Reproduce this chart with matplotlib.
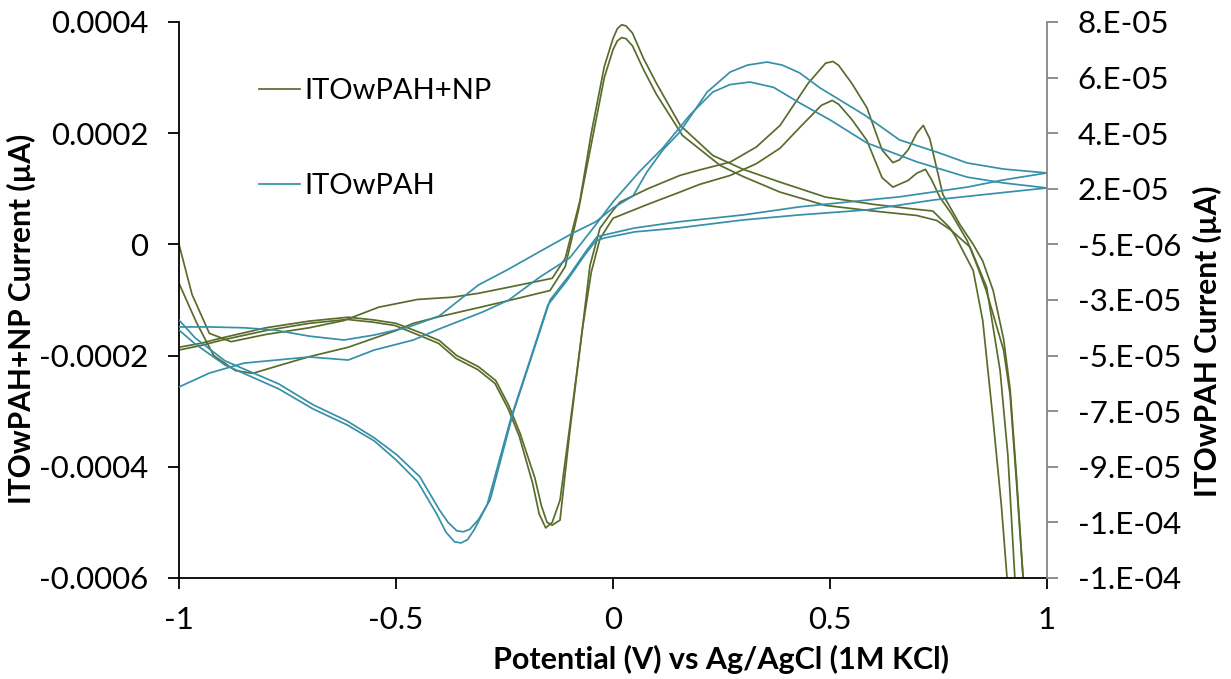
import matplotlib
matplotlib.use("Agg")
import matplotlib.pyplot as plt

plt.rcParams['font.family'] = ['Lato', 'DejaVu Sans']

# -------------------- DATA --------------------
# ITOwPAH+NP (left axis), two cycles, forward and reverse branch each
np_fwd1_x = [-1.0, -0.97, -0.93, -0.88, -0.8, -0.7, -0.62, -0.54, -0.45, -0.37, -0.31, -0.24, -0.14,
             -0.11, -0.076, -0.05, -0.02, 0.0, 0.01, 0.02, 0.03, 0.045, 0.07, 0.1, 0.155, 0.23, 0.3,
             0.385, 0.49, 0.6, 0.7, 0.737, 0.776, 0.79, 0.83, 0.852, 0.876, 0.895, 0.908, 0.915]
np_fwd1_y = [0.0, -0.9e-4, -1.6e-4, -1.75e-4, -1.62e-4, -1.5e-4, -1.37e-4, -1.13e-4, -0.99e-4, -0.95e-4,
             -0.88e-4, -0.77e-4, -0.61e-4, -0.25e-4, 0.79e-4, 2.0e-4, 3.2e-4, 3.7e-4, 3.88e-4, 3.95e-4,
             3.93e-4, 3.8e-4, 3.35e-4, 2.9e-4, 2.14e-4, 1.6e-4, 1.35e-4, 1.12e-4, 0.85e-4, 0.72e-4,
             0.63e-4, 0.6e-4, 0.3e-4, 0.13e-4, -0.47e-4, -1.37e-4, -3.17e-4, -4.7e-4, -6.0e-4, -6.6e-4]

np_fwd2_x = [-1.0, -0.96, -0.92, -0.87, -0.83, -0.77, -0.7, -0.61, -0.5, -0.46, -0.4, -0.3, -0.24,
             -0.145, -0.11, -0.08, -0.05, -0.02, 0.0, 0.01, 0.02, 0.03, 0.045, 0.07, 0.1, 0.16, 0.247,
             0.3, 0.385, 0.49, 0.6, 0.7, 0.746, 0.78, 0.823, 0.861, 0.892, 0.91, 0.926, 0.935]
np_fwd2_y = [-0.7e-4, -1.4e-4, -2.0e-4, -2.27e-4, -2.32e-4, -2.18e-4, -2.02e-4, -1.85e-4, -1.55e-4,
             -1.42e-4, -1.3e-4, -1.12e-4, -1.01e-4, -0.83e-4, -0.4e-4, 0.6e-4, 1.8e-4, 3.0e-4, 3.5e-4,
             3.66e-4, 3.72e-4, 3.7e-4, 3.57e-4, 3.15e-4, 2.7e-4, 1.96e-4, 1.42e-4, 1.22e-4, 0.94e-4,
             0.7e-4, 0.6e-4, 0.52e-4, 0.43e-4, 0.25e-4, -0.05e-4, -0.77e-4, -2.27e-4, -3.8e-4, -6.0e-4,
             -6.6e-4]

np_rev1_x = [0.952, 0.945, 0.93, 0.915, 0.9, 0.876, 0.852, 0.83, 0.8, 0.76, 0.745, 0.73, 0.715, 0.7,
             0.68, 0.66, 0.645, 0.62, 0.585, 0.55, 0.52, 0.507, 0.49, 0.45, 0.385, 0.33, 0.27, 0.2,
             0.154, 0.08, 0.016, 0.0, -0.03, -0.053, -0.071, -0.1, -0.122, -0.14, -0.152, -0.165,
             -0.18, -0.214, -0.24, -0.27, -0.31, -0.36, -0.4, -0.44, -0.5, -0.55, -0.61, -0.7, -0.8,
             -0.9, -0.95, -1.0]
np_rev1_y = [-6.6e-4, -6.0e-4, -4.2e-4, -2.6e-4, -1.7e-4, -0.83e-4, -0.3e-4, 0.0, 0.35e-4, 0.9e-4,
             1.4e-4, 1.9e-4, 2.14e-4, 2.0e-4, 1.7e-4, 1.52e-4, 1.47e-4, 1.7e-4, 2.46e-4, 2.9e-4,
             3.22e-4, 3.29e-4, 3.26e-4, 2.9e-4, 2.14e-4, 1.75e-4, 1.48e-4, 1.34e-4, 1.24e-4, 1.0e-4,
             0.76e-4, 0.61e-4, 0.29e-4, -0.38e-4, -1.55e-4, -3.4e-4, -4.96e-4, -5.05e-4, -5.0e-4,
             -4.7e-4, -4.2e-4, -3.4e-4, -2.9e-4, -2.45e-4, -2.2e-4, -2.0e-4, -1.73e-4, -1.6e-4,
             -1.42e-4, -1.36e-4, -1.31e-4, -1.38e-4, -1.5e-4, -1.68e-4, -1.78e-4, -1.85e-4]

np_rev2_x = [0.952, 0.945, 0.93, 0.915, 0.9, 0.86, 0.84, 0.816, 0.78, 0.753, 0.735, 0.72, 0.7, 0.68,
             0.645, 0.62, 0.585, 0.55, 0.52, 0.505, 0.48, 0.43, 0.385, 0.33, 0.27, 0.2, 0.154, 0.08,
             0.0, -0.03, -0.05, -0.07, -0.1, -0.122, -0.14, -0.155, -0.17, -0.185, -0.216, -0.242,
             -0.272, -0.312, -0.362, -0.402, -0.442, -0.502, -0.552, -0.612, -0.7, -0.8, -0.9, -0.95,
             -1.0]
np_rev2_y = [-6.6e-4, -6.0e-4, -4.3e-4, -2.7e-4, -1.9e-4, -0.83e-4, -0.4e-4, 0.07e-4, 0.55e-4,
             0.85e-4, 1.15e-4, 1.35e-4, 1.28e-4, 1.15e-4, 1.03e-4, 1.2e-4, 1.87e-4, 2.25e-4, 2.52e-4,
             2.59e-4, 2.5e-4, 2.1e-4, 1.73e-4, 1.45e-4, 1.24e-4, 1.08e-4, 0.94e-4, 0.72e-4, 0.47e-4,
             0.1e-4, -0.5e-4, -1.5e-4, -3.3e-4, -4.6e-4, -5.0e-4, -5.1e-4, -4.85e-4, -4.3e-4, -3.45e-4,
             -2.95e-4, -2.5e-4, -2.25e-4, -2.05e-4, -1.78e-4, -1.65e-4, -1.46e-4, -1.4e-4, -1.35e-4,
             -1.42e-4, -1.55e-4, -1.72e-4, -1.82e-4, -1.9e-4]

# ITOwPAH (right axis)
pah_fwd1_x = [-1.0, -0.93, -0.85, -0.78, -0.7, -0.62, -0.55, -0.47, -0.4, -0.31, -0.244, -0.17, -0.092,
              -0.04, 0.0, 0.046, 0.078, 0.115, 0.154, 0.217, 0.27, 0.31, 0.355, 0.39, 0.43, 0.477, 0.58,
              0.66, 0.75, 0.816, 0.9, 1.0]
pah_fwd1_y = [-3.47e-5, -3.47e-5, -3.5e-5, -3.58e-5, -3.8e-5, -3.94e-5, -3.76e-5, -3.47e-5, -3.07e-5,
              -1.96e-5, -1.42e-5, -0.77e-5, -0.09e-5, 0.31e-5, 0.81e-5, 1.24e-5, 2.1e-5, 2.9e-5, 3.54e-5,
              4.98e-5, 5.7e-5, 5.95e-5, 6.06e-5, 5.95e-5, 5.67e-5, 5.13e-5, 4.15e-5, 3.26e-5, 2.8e-5,
              2.43e-5, 2.21e-5, 2.07e-5]

pah_fwd2_x = [-1.0, -0.93, -0.85, -0.7, -0.61, -0.55, -0.46, -0.4, -0.3, -0.24, -0.168, -0.1, -0.076,
              -0.04, 0.0, 0.06, 0.115, 0.177, 0.23, 0.27, 0.316, 0.37, 0.43, 0.5, 0.585, 0.7, 0.816,
              0.9, 1.0]
pah_fwd2_y = [-5.63e-5, -5.13e-5, -4.77e-5, -4.55e-5, -4.66e-5, -4.3e-5, -3.94e-5, -3.54e-5, -2.93e-5,
              -2.5e-5, -1.67e-5, -0.99e-5, -0.52e-5, 0.2e-5, 1.03e-5, 2.1e-5, 2.97e-5, 4.15e-5, 4.98e-5,
              5.25e-5, 5.34e-5, 5.15e-5, 4.59e-5, 3.98e-5, 3.15e-5, 2.47e-5, 1.92e-5, 1.71e-5, 1.53e-5]

pah_rev1_x = [1.0, 0.9, 0.816, 0.66, 0.5, 0.43, 0.3, 0.15, 0.05, -0.02, -0.037, -0.06, -0.1, -0.145,
              -0.19, -0.23, -0.283, -0.31, -0.33, -0.345, -0.36, -0.38, -0.4, -0.445, -0.498, -0.55,
              -0.613, -0.691, -0.77, -0.894, -0.963, -1.0]
pah_rev1_y = [2.07e-5, 1.82e-5, 1.56e-5, 1.21e-5, 0.96e-5, 0.85e-5, 0.56e-5, 0.31e-5, 0.09e-5, -0.16e-5,
              -0.23e-5, -0.7e-5, -1.6e-5, -2.5e-5, -4.66e-5, -6.56e-5, -9.69e-5, -10.4e-5, -10.75e-5,
              -10.84e-5, -10.8e-5, -10.5e-5, -10.05e-5, -8.86e-5, -8.07e-5, -7.46e-5, -6.85e-5,
              -6.27e-5, -5.52e-5, -4.69e-5, -3.86e-5, -3.22e-5]

pah_rev2_x = [1.0, 0.89, 0.74, 0.585, 0.43, 0.3, 0.15, 0.05, -0.02, -0.04, -0.065, -0.105, -0.15,
              -0.195, -0.235, -0.29, -0.32, -0.335, -0.35, -0.365, -0.385, -0.405, -0.45, -0.5, -0.55,
              -0.613, -0.691, -0.77, -0.894, -0.963, -1.0]
pah_rev2_y = [1.53e-5, 1.35e-5, 1.1e-5, 0.74e-5, 0.56e-5, 0.38e-5, 0.09e-5, -0.05e-5, -0.27e-5,
              -0.38e-5, -0.88e-5, -1.78e-5, -2.68e-5, -4.84e-5, -6.74e-5, -9.87e-5, -10.77e-5,
              -11.12e-5, -11.24e-5, -11.2e-5, -10.85e-5, -10.23e-5, -9.04e-5, -8.25e-5, -7.57e-5,
              -6.99e-5, -6.42e-5, -5.7e-5, -4.84e-5, -4.08e-5, -3.58e-5]

x_ticks = [-1, -0.5, 0, 0.5, 1]
x_labels = ['-1', '-0.5', '0', '0.5', '1']
left_ticks = [0.0004, 0.0002, 0.0, -0.0002, -0.0004, -0.0006]
left_labels = ['0.0004', '0.0002', '0', '-0.0002', '-0.0004', '-0.0006']
right_ticks = [7.5e-5, 5.5e-5, 3.5e-5, 1.5e-5, -0.5e-5, -2.5e-5, -4.5e-5, -6.5e-5, -8.5e-5, -10.5e-5, -12.5e-5]
right_labels = ['8.E-05', '6.E-05', '4.E-05', '2.E-05', '-5.E-06', '-3.E-05', '-5.E-05',
                '-7.E-05', '-9.E-05', '-1.E-04', '-1.E-04']

GREEN = '#5a6c2c'
BLUE = '#3690a8'
GREY = '#868686'
FS = 22.5

# -------------------- FIGURE --------------------
fig = plt.figure(figsize=(12.31, 6.79), dpi=100)
ax = fig.add_axes([0.1454, 0.1488, 0.7051, 0.8188])
ax2 = ax.twinx()

g_line, = ax.plot(np_fwd1_x, np_fwd1_y, color=GREEN, lw=1.25)
for xs, ys in [(np_fwd2_x, np_fwd2_y), (np_rev1_x, np_rev1_y), (np_rev2_x, np_rev2_y)]:
    ax.plot(xs, ys, color=GREEN, lw=1.25)

b_line, = ax2.plot(pah_fwd1_x, pah_fwd1_y, color=BLUE, lw=1.25)
for xs, ys in [(pah_fwd2_x, pah_fwd2_y), (pah_rev1_x, pah_rev1_y), (pah_rev2_x, pah_rev2_y)]:
    ax2.plot(xs, ys, color=BLUE, lw=1.25)

ax.set_xlim(-1, 1)
ax.set_ylim(-0.0006, 0.0004)
ax2.set_ylim(-12.5e-5, 7.5e-5)

ax.set_xticks(x_ticks)
ax.set_xticklabels(x_labels)
ax.set_yticks(left_ticks)
ax.set_yticklabels(left_labels)
ax2.set_yticks(right_ticks)
ax2.set_yticklabels(right_labels)

for a in (ax, ax2):
    a.spines['top'].set_visible(False)
ax.spines['right'].set_visible(False)
ax2.spines['left'].set_visible(False)
ax2.spines['bottom'].set_visible(False)
ax.spines['left'].set_linewidth(1.3)
ax.spines['bottom'].set_linewidth(1.3)
ax2.spines['right'].set_color(GREY)
ax2.spines['right'].set_linewidth(1.3)

ax.tick_params(axis='y', direction='out', length=8, width=1.3, pad=14, labelsize=FS)
ax.tick_params(axis='x', direction='out', length=8, width=1.3, pad=12, labelsize=FS)
ax2.tick_params(axis='y', direction='out', length=8, width=1.3, pad=14, labelsize=FS, color=GREY)

# Excel put the axis titles a little off-centre
ax.set_xlabel('Potential (V) vs Ag/AgCl (1M KCl)', fontsize=FS - 0.5, fontweight='bold')
ax.xaxis.set_label_coords(0.624, -0.12)
ax.set_ylabel('ITOwPAH+NP Current (µA)', fontsize=FS - 1, fontweight='bold')
ax.yaxis.set_label_coords(-0.165, 0.466)
ax2.set_ylabel('ITOwPAH Current (µA)', fontsize=FS - 1, fontweight='bold')
ax2.yaxis.set_label_coords(1.168, 0.426)

ax.legend([g_line, b_line], ['ITOwPAH+NP', 'ITOwPAH'], loc='upper left',
          bbox_to_anchor=(0.075, 0.925), frameon=False, fontsize=21, borderpad=0,
          handlelength=1.4, handletextpad=0.15, labelspacing=2.35)

fig.savefig('out.png', dpi=100)
